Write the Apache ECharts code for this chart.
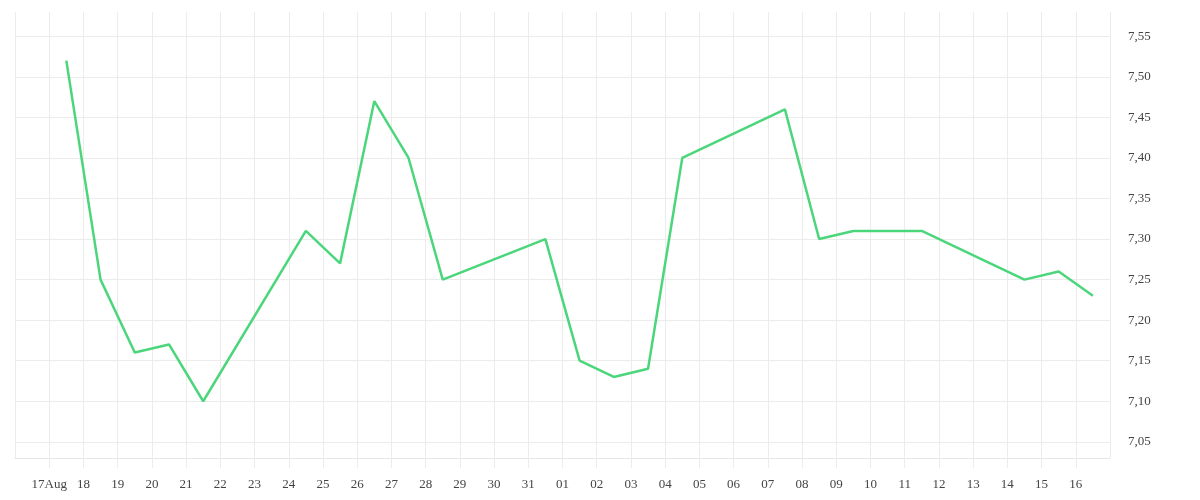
<!DOCTYPE html>
<html>
<head>
<meta charset="utf-8">
<script src="https://cdn.jsdelivr.net/npm/echarts@6/dist/echarts.min.js"></script>
<style>
  html, body { margin: 0; padding: 0; background: #ffffff; }
  #chart { width: 1200px; height: 500px; }
</style>
</head>
<body>
<div id="chart"></div>
<script>
// Axis day ticks: 16 Aug 2020 .. 17 Sep 2020 (first and last are hidden)
const tickLabels = ['16', '17Aug', '18', '19', '20', '21', '22', '23', '24', '25', '26', '27', '28', '29', '30', '31',
  '01', '02', '03', '04', '05', '06', '07', '08', '09', '10', '11', '12', '13', '14', '15', '16', '17'];
const axisStart = '2020-08-16';

// Series (trading days)
const dates = ['2020-08-17', '2020-08-18', '2020-08-19', '2020-08-20', '2020-08-21',
  '2020-08-24', '2020-08-25', '2020-08-26', '2020-08-27', '2020-08-28',
  '2020-08-31', '2020-09-01', '2020-09-02', '2020-09-03', '2020-09-04',
  '2020-09-07', '2020-09-08', '2020-09-09', '2020-09-10', '2020-09-11',
  '2020-09-14', '2020-09-15', '2020-09-16'];
const values = [7.52, 7.25, 7.16, 7.17, 7.10,
  7.31, 7.27, 7.47, 7.40, 7.25,
  7.30, 7.15, 7.13, 7.14, 7.40,
  7.46, 7.30, 7.31, 7.31, 7.31,
  7.25, 7.26, 7.23];

const DAY = 86400000;
const t0 = Date.parse(axisStart + 'T00:00:00Z');
// each value is plotted at mid-day of its date
const seriesData = dates.map((d, i) => [(Date.parse(d + 'T00:00:00Z') - t0) / DAY + 0.5, values[i]]);

const gridColor = '#ececec';
const labelFont = { fontFamily: 'Liberation Serif', fontSize: 13, color: '#444' };

const chart = echarts.init(document.getElementById('chart'));
chart.setOption({
  animation: false,
  backgroundColor: '#ffffff',
  grid: { left: 15, right: 90, top: 12, bottom: 42, containLabel: false },
  xAxis: {
    type: 'value',
    min: 0,
    max: tickLabels.length - 1,
    interval: 1,
    axisLine: { show: true, lineStyle: { color: '#e6e6e6', width: 1 } },
    axisTick: { show: true, length: 10, lineStyle: { color: gridColor } },
    splitLine: { show: true, lineStyle: { color: gridColor, width: 1 } },
    axisLabel: Object.assign({
      showMinLabel: false,
      showMaxLabel: false,
      margin: 20,
      formatter: v => tickLabels[Math.round(v)] || ''
    }, labelFont)
  },
  yAxis: {
    type: 'value',
    position: 'right',
    min: 7.03,
    max: 7.58,
    splitNumber: 11,
    axisLine: { show: false },
    axisTick: { show: false },
    splitLine: { show: true, showMaxLine: false, lineStyle: { color: gridColor, width: 1 } },
    axisLabel: Object.assign({
      showMinLabel: false,
      showMaxLabel: false,
      margin: 18,
      padding: [8, 0, 0, 0],
      formatter: v => v.toFixed(2).replace('.', ',')
    }, labelFont)
  },
  series: [{
    type: 'line',
    data: seriesData,
    showSymbol: false,
    smooth: false,
    lineStyle: { color: '#4cd67c', width: 2.5 },
    itemStyle: { color: '#4cd67c' }
  }]
});
</script>
</body>
</html>
